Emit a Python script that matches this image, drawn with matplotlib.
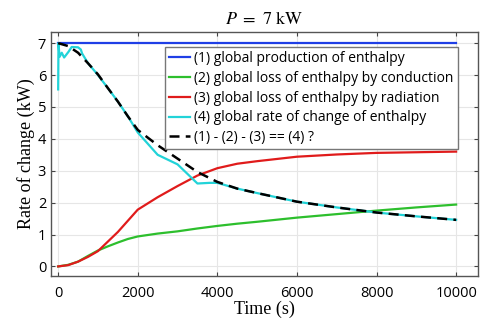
import numpy as np
import matplotlib
matplotlib.use("Agg")
import matplotlib.pyplot as plt

# Values (time in s, rates in kW)
TIME = [0, 250, 500, 750, 1000, 1250, 1500, 1750, 2000, 2500, 3000, 3500,
        4000, 4500, 5000, 6000, 7000, 8000, 9000, 10000]
PRODUCTION = [7.0] * len(TIME)
CONDUCTION = [0.0, 0.05, 0.15, 0.33, 0.50, 0.63, 0.75, 0.86, 0.94, 1.03, 1.10, 1.19,
              1.27, 1.34, 1.40, 1.53, 1.64, 1.75, 1.85, 1.94]
RADIATION = [0.0, 0.04, 0.15, 0.30, 0.48, 0.78, 1.08, 1.43, 1.78, 2.17, 2.52, 2.85,
             3.08, 3.22, 3.30, 3.44, 3.51, 3.56, 3.58, 3.60]

# global rate of change (4), sampled separately
TIME_4 = [0, 8, 35, 90, 150, 260, 340, 500, 570, 600, 750, 900, 1000, 1250, 1500,
          1750, 2000, 2500, 3000, 3500, 3800, 4000, 4500, 5000, 6000, 7000, 8000,
          9000, 10000]
RATE_4 = [5.55, 7.0, 6.57, 6.70, 6.55, 6.73, 6.88, 6.87, 6.80, 6.68, 6.37, 6.15, 6.0,
          5.59, 5.17, 4.71, 4.20, 3.50, 3.20, 2.60, 2.62, 2.62, 2.44, 2.30, 2.03,
          1.85, 1.69, 1.57, 1.46]

LABELS = ["(1) global production of enthalpy",
          "(2) global loss of enthalpy by conduction",
          "(3) global loss of enthalpy by radiation",
          "(4) global rate of change of enthalpy",
          "(1) - (2) - (3) == (4) ?"]

plt.rcParams["mathtext.fontset"] = "stix"
plt.rcParams["font.family"] = "Open Sans"

t = np.array(TIME)
balance = np.array(PRODUCTION) - np.array(CONDUCTION) - np.array(RADIATION)

fig = plt.figure(figsize=(4.81, 3.2), dpi=100)
ax = fig.add_axes([51/481, 1 - 276/320, 427/481, 244/320])

ax.plot(t, PRODUCTION, color="#1f3fe6", lw=1.6, label=LABELS[0])
ax.plot(t, CONDUCTION, color="#2dbf2d", lw=1.6, label=LABELS[1])
ax.plot(t, RADIATION, color="#e01b1b", lw=1.6, label=LABELS[2])
ax.plot(TIME_4, RATE_4, color="#22d3d8", lw=1.6, label=LABELS[3])
ax.plot(t, balance, color="black", lw=1.8, ls=(0, (4, 2.5)), label=LABELS[4])

ax.set_xlim(-180, 10550)
ax.set_ylim(-0.3, 7.35)
ax.set_xticks([0, 2000, 4000, 6000, 8000, 10000])
ax.set_yticks(range(0, 8))
ax.grid(True, color="#e6e6e6", lw=0.8)
ax.set_axisbelow(True)
ax.tick_params(direction="in", top=True, right=True, length=3, labelsize=10.5,
               color="#444444")
ax.tick_params(axis="x", pad=7)
for s in ax.spines.values():
    s.set_color("#555555")
    s.set_linewidth(1.0)

ax.set_title(r"$P\ =\ 7\ \mathrm{kW}$", fontsize=13, pad=6)
ax.set_xlabel("Time (s)", family="Liberation Serif", fontsize=13, labelpad=0)
ax.set_ylabel("Rate of change (kW)", family="Liberation Serif", fontsize=13, labelpad=2)

leg = ax.legend(loc="upper right", bbox_to_anchor=(0.953, 0.94), fontsize=10,
                fancybox=False, framealpha=1, edgecolor="#777777",
                handlelength=1.5, handletextpad=0.3, labelspacing=0.35,
                borderpad=0.3, borderaxespad=0)
leg.get_frame().set_linewidth(1.0)

fig.savefig("out.png", dpi=100)
